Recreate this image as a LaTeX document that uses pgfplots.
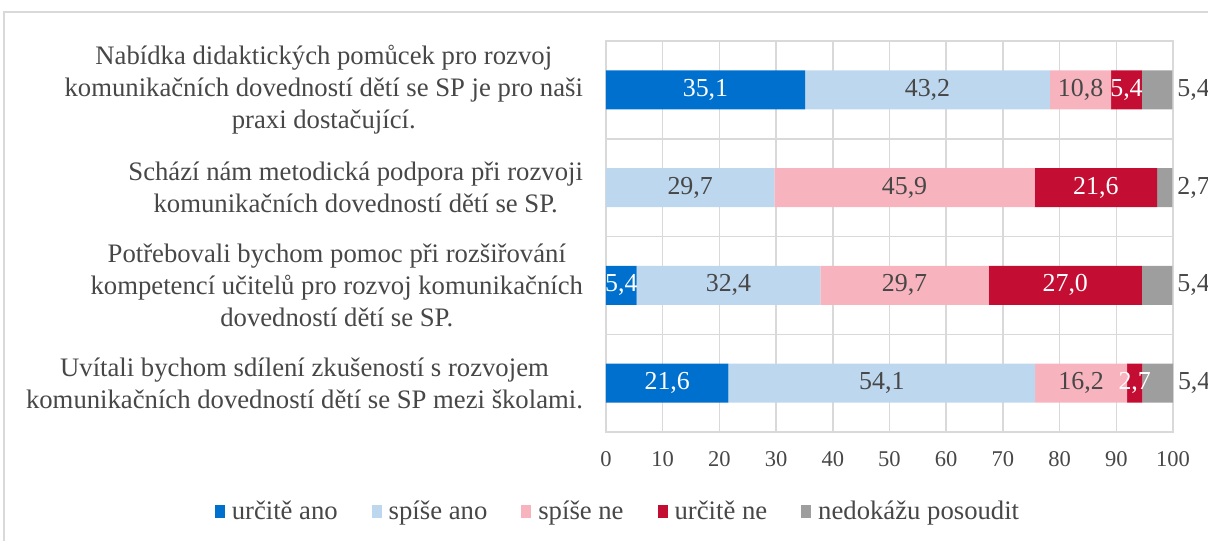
\documentclass[border=0pt]{standalone}
\usepackage{pgfplots}
\pgfplotsset{compat=1.18}
\usepackage{fontspec}
\setmainfont{Liberation Serif}
\definecolor{c1}{HTML}{0070CE}
\definecolor{c2}{HTML}{BDD7EE}
\definecolor{c3}{HTML}{F8B4BE}
\definecolor{c4}{HTML}{C40D32}
\definecolor{c5}{HTML}{9E9E9E}
\definecolor{txt}{HTML}{474747}
\definecolor{gridc}{HTML}{D9D9D9}
\begin{document}
\begin{tikzpicture}
\useasboundingbox (-303bp,-54.5bp) rectangle (301bp,216bp);
\draw[gridc, line width=0.8bp] (-301bp,-80bp) rectangle (330bp,210bp);
\begin{axis}[
  scale only axis, width=283.5bp, height=195.5bp,
  at={(0,0)}, anchor=south west,
  xbar stacked, bar width=0.4,
  xmin=0, xmax=100, ymin=-0.5, ymax=3.5,
  xtick={0,10,...,100}, ytick={0,1,2,3},
  minor ytick={-0.5,0.5,1.5,2.5,3.5},
  xmajorgrids, yminorgrids,
  grid style={gridc, line width=0.75bp},
  minor grid style={gridc, line width=0.75bp},
  axis line style={gridc, line width=0.75bp},
  major tick length=0pt, minor tick length=0pt,
  /pgf/number format/assume math mode=true,
  tick label style={text=txt},
  xticklabel style={font=\fontsize{11.3}{13}\selectfont, yshift=-6bp},
  yticklabel style={align=center, font=\fontsize{13.4}{16}\selectfont, xshift=-8bp},
  yticklabels={
    {Uvítali bychom sdílení zkušeností s rozvojem\\komunikačních dovedností dětí se SP mezi školami.},
    {Potřebovali bychom pomoc při rozšiřování\\kompetencí učitelů pro rozvoj komunikačních\\dovedností dětí se SP.},
    {Schází nám metodická podpora při rozvoji\\komunikačních dovedností dětí se SP.},
    {Nabídka didaktických pomůcek pro rozvoj\\komunikačních dovedností dětí se SP je pro naši\\praxi dostačující.}},
  nodes near coords={\pgfmathfloatifflags{\pgfplotspointmeta}{0}{}{\pgfkeys{/pgf/number format/.cd,use comma,fixed,fixed zerofill,precision=1}\pgfmathprintnumber{\pgfplotspointmeta}}},
  every node near coord/.append style={font=\fontsize{13}{15}\selectfont},
  legend columns=5,
  legend style={draw=none, fill=none, at={(0.0229,-0.2046)}, anchor=center,
    font=\fontsize{13.4}{15}\selectfont, text=txt,
    /tikz/every odd column/.append style={column sep=1.5bp},
    /tikz/every even column/.append style={column sep=15bp}},
  legend image code/.code={\fill[#1] (0bp,-3.2bp) rectangle (5bp,3.4bp);},
]
\addplot[fill=c1, draw=none, every node near coord/.append style={text=white}] coordinates {(21.6,0) (5.4,1) (0,2) (35.1,3)};
\addplot[fill=c2, draw=none, every node near coord/.append style={text=txt}] coordinates {(54.1,0) (32.4,1) (29.7,2) (43.2,3)};
\addplot[fill=c3, draw=none, every node near coord/.append style={text=txt}] coordinates {(16.2,0) (29.7,1) (45.9,2) (10.8,3)};
\addplot[fill=c4, draw=none, every node near coord/.append style={text=white}] coordinates {(2.7,0) (27.0,1) (21.6,2) (5.4,3)};
\addplot[fill=c5, draw=none, visualization depends on={rawx \as \rawx},
  every node near coord/.append style={text=txt, anchor=west, xshift={1.4175bp*\rawx-1bp}}] coordinates {(5.4,0) (5.4,1) (2.7,2) (5.4,3)};
\legend{určitě ano, spíše ano, spíše ne, určitě ne, nedokážu posoudit}
\end{axis}
\end{tikzpicture}
\end{document}
